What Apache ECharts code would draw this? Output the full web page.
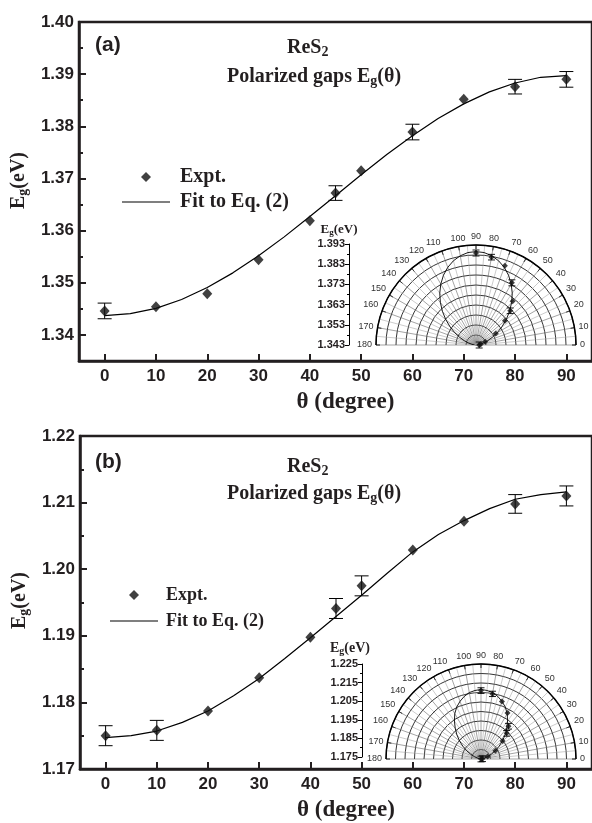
<!DOCTYPE html>
<html>
<head>
<meta charset="utf-8">
<script src="https://cdn.jsdelivr.net/npm/echarts@6/dist/echarts.min.js"></script>
<style>
  html, body { margin: 0; padding: 0; background: #fff; }
  #chart { width: 592px; height: 823px; }
</style>
</head>
<body>
<div id="chart"></div>
<script>
// measured points (theta in degree, Eg in eV)
const thetaExp = [0, 10, 20, 30, 40, 45, 50, 60, 70, 80, 90];
const egExpA = [1.3446, 1.3454, 1.3479, 1.3544, 1.3619, 1.3672, 1.3715, 1.3789, 1.3852, 1.3876, 1.3890];
const errA   = [0.0015, 0, 0, 0, 0, 0.0014, 0, 0.0015, 0, 0.0014, 0.0015];
const egExpB = [1.1750, 1.1758, 1.1787, 1.1837, 1.1898, 1.1941, 1.1975, 1.2029, 1.2072, 1.2098, 1.2110];
const errB   = [0.0015, 0.0015, 0, 0, 0, 0.0015, 0.0015, 0, 0, 0.0014, 0.0015];

// fitted curves
const thetaFit = [0, 5, 10, 15, 20, 25, 30, 35, 40, 45, 50, 55, 60, 65, 70, 75, 80, 85, 90];
const egFitA = [1.3437, 1.3441, 1.3451, 1.3468, 1.3491, 1.3519, 1.3552, 1.3588, 1.3627, 1.3667,
                1.3707, 1.3746, 1.3782, 1.3815, 1.3843, 1.3866, 1.3883, 1.3894, 1.3897];
const egFitB = [1.1747, 1.1750, 1.1757, 1.1770, 1.1787, 1.1810, 1.1836, 1.1866, 1.1897, 1.1929,
                1.1961, 1.1994, 1.2026, 1.2052, 1.2073, 1.2091, 1.2105, 1.2112, 1.2116];

// tick labels
const xTicks = [0, 10, 20, 30, 40, 50, 60, 70, 80, 90];
const yTicksA = [1.34, 1.35, 1.36, 1.37, 1.38, 1.39, 1.40];
const yTicksB = [1.17, 1.18, 1.19, 1.20, 1.21, 1.22];

const SANS = 'Liberation Sans';
const SERIF = 'Liberation Serif';
const INK = '#231f20';

const chart = echarts.init(document.getElementById('chart'), null, { renderer: 'canvas' });

const sub = (size, drop) => ({ fontFamily: SERIF, fontWeight: 'bold', fontSize: size, color: INK, padding: [drop, 0, 0, 0] });
const norm = (size) => ({ fontFamily: SERIF, fontWeight: 'bold', fontSize: size, color: INK });

const expData = (eg, err) => thetaExp.map((t, i) => [t, eg[i], err[i]]);
const fitData = (eg) => thetaFit.map((t, i) => [t, eg[i]]);
// polar: [radius, angle], curve mirrored to 180 deg
const polarExp = (eg, err) => thetaExp.map((t, i) => [eg[i], t, err[i]]);
const polarFit = (eg) => {
  const out = thetaFit.map((t, i) => [eg[i], t]);
  for (let i = thetaFit.length - 2; i >= 0; i--) out.push([eg[i], 180 - thetaFit[i]]);
  return out;
};

const errRender = (params, api) => {
  const e = api.value(2);
  if (!e) return;
  const top = api.coord([api.value(0), api.value(1) + e]);
  const bot = api.coord([api.value(0), api.value(1) - e]);
  const w = 7;
  const st = { stroke: '#000', lineWidth: 1 };
  return { type: 'group', children: [
    { type: 'line', shape: { x1: top[0], y1: top[1], x2: bot[0], y2: bot[1] }, style: st },
    { type: 'line', shape: { x1: top[0] - w, y1: top[1], x2: top[0] + w, y2: top[1] }, style: st },
    { type: 'line', shape: { x1: bot[0] - w, y1: bot[1], x2: bot[0] + w, y2: bot[1] }, style: st }
  ] };
};

const polarErrRender = (params, api) => {
  const e = api.value(2);
  if (!e) return;
  const p = api.coord([api.value(0), api.value(1)]);
  const q = api.coord([api.value(0) + e, api.value(1)]);
  const h = Math.hypot(q[0] - p[0], q[1] - p[1]);
  const w = 3.5;
  const st = { stroke: '#000', lineWidth: 0.9 };
  return { type: 'group', children: [
    { type: 'line', shape: { x1: p[0], y1: p[1] - h, x2: p[0], y2: p[1] + h }, style: st },
    { type: 'line', shape: { x1: p[0] - w, y1: p[1] - h, x2: p[0] + w, y2: p[1] - h }, style: st },
    { type: 'line', shape: { x1: p[0] - w, y1: p[1] + h, x2: p[0] + w, y2: p[1] + h }, style: st }
  ] };
};

const mainX = (gridIndex) => ({
  gridIndex, type: 'value', min: -5, max: 95,
  name: 'θ (degree)', nameLocation: 'middle', nameGap: 30,
  nameTextStyle: { fontFamily: SERIF, fontWeight: 'bold', fontSize: 23, color: INK, padding: [0, 0, 0, 20] },
  axisLine: { onZero: false, lineStyle: { color: INK, width: 2.5 } },
  axisTick: { inside: true, length: 7, lineStyle: { width: 2, color: INK }, customValues: xTicks },
  axisLabel: { customValues: xTicks, margin: 7, fontFamily: SANS, fontWeight: 'bold', fontSize: 17, color: INK },
  splitLine: { show: false }
});

const mainY = (gridIndex, min, max, ticks, padBottom) => ({
  gridIndex, type: 'value', min, max, position: 'left',
  name: '{e|E}{s|g}{e|(eV)}', nameLocation: 'middle', nameGap: 48,
  nameTextStyle: { padding: [0, 0, 0, padBottom], rich: { e: norm(20), s: sub(14, 9) } },
  axisLine: { onZero: false, lineStyle: { color: INK, width: 2.5 } },
  axisTick: { inside: true, length: 7, lineStyle: { width: 2, color: INK }, customValues: ticks },
  axisLabel: { customValues: ticks, margin: 5, formatter: v => v.toFixed(2),
               fontFamily: SANS, fontWeight: 'bold', fontSize: 17, color: INK },
  splitLine: { show: false }
});

const minorY = (gridIndex, min, max) => ({
  gridIndex, type: 'value', min, max, interval: 0.005, position: 'left',
  axisLine: { show: false, onZero: false },
  axisTick: { inside: true, length: 4, lineStyle: { width: 2, color: INK } },
  axisLabel: { show: false },
  splitLine: { show: false }
});

const insetY = (gridIndex, min, max) => ({
  gridIndex, type: 'value', min, max, interval: 0.01, position: 'left',
  axisLine: { onZero: false, lineStyle: { color: '#000', width: 1 } },
  axisTick: { length: 4, lineStyle: { color: '#000', width: 1 } },
  minorTick: { show: true, splitNumber: 2, length: 2, lineStyle: { color: '#000' } },
  axisLabel: { margin: 4, formatter: v => v.toFixed(3), fontFamily: SANS, fontWeight: 'bold', fontSize: 11, color: INK },
  splitLine: { show: false }
});

const angleAxis = (polarIndex) => ({
  polarIndex, type: 'value', min: 0, max: 180, interval: 10,
  startAngle: 0, endAngle: 180, clockwise: false,
  axisLine: { lineStyle: { color: '#000', width: 1.5 } },
  axisTick: { inside: true, length: 4, lineStyle: { color: '#000' } },
  axisLabel: { margin: 4, fontFamily: SANS, fontSize: 9, color: '#333' },
  splitLine: { show: true, lineStyle: { color: '#666', width: 0.6 } },
  minorTick: { show: false, splitNumber: 2 },
  minorSplitLine: { show: true, lineStyle: { color: '#999', width: 0.5 } }
});

const radiusAxis = (polarIndex, min, max) => ({
  polarIndex, type: 'value', min, max, interval: 0.005,
  axisLine: { show: false }, axisTick: { show: false }, axisLabel: { show: false },
  splitLine: { show: true, lineStyle: { color: '#000', width: 0.8 } }
});

const legend = (left, top, size, pad, gap) => ({
  data: [
    { name: 'Expt.', icon: 'path://M0,-1L1,0L0,1L-1,0Z', itemStyle: { color: '#111' } },
    { name: 'Fit to Eq. (2)', icon: 'path://M0,0L48,0L48,1.2L0,1.2Z', itemStyle: { color: '#000' } }
  ],
  orient: 'vertical', left, top,
  itemWidth: 48, itemHeight: 10, itemGap: gap, selectedMode: false,
  textStyle: { fontFamily: SERIF, fontWeight: 'bold', fontSize: size, color: INK, padding: [0, 0, 0, pad] }
});

const label = (x, y, text, rich, align) => ({
  type: 'text', x, y,
  style: { text, rich, align: align || 'left', verticalAlign: 'middle', fill: INK }
});

const option = {
  animation: false,
  backgroundColor: '#fff',
  grid: [
    { left: 79, top: 22, width: 516, height: 339, show: true, borderColor: INK, borderWidth: 2.5 },
    { left: 80, top: 436, width: 515, height: 337, show: true, borderColor: INK, borderWidth: 2.5 },
    { left: 349, top: 244, width: 1, height: 101 },
    { left: 362, top: 664, width: 1, height: 93 }
  ],
  xAxis: [
    mainX(0), mainX(1),
    { gridIndex: 2, show: false, min: 0, max: 1 },
    { gridIndex: 3, show: false, min: 0, max: 1 }
  ],
  yAxis: [
    mainY(0, 1.335, 1.40, yTicksA, 22),
    mainY(1, 1.17, 1.22, yTicksB, 4),
    minorY(0, 1.335, 1.40),
    minorY(1, 1.17, 1.22),
    insetY(2, 1.343, 1.393),
    insetY(3, 1.175, 1.225)
  ],
  polar: [
    { center: [476, 345], radius: 100 },
    { center: [481, 759], radius: 95 }
  ],
  angleAxis: [angleAxis(0), angleAxis(1)],
  radiusAxis: [radiusAxis(0, 1.343, 1.393), radiusAxis(1, 1.175, 1.225)],
  legend: [legend(117, 162, 20, 5, 5), legend(105, 581, 18, 3, 8)],
  graphic: [
    label(95, 45, '{t|(a)}', { t: { fontFamily: SANS, fontWeight: 'bold', fontSize: 21, color: INK } }),
    label(287, 48, '{t|ReS}{s|2}', { t: norm(20), s: sub(14, 8) }),
    label(227, 77, '{t|Polarized gaps E}{s|g}{t|(θ)}', { t: norm(20), s: sub(14, 9) }),
    label(95, 462, '{t|(b)}', { t: { fontFamily: SANS, fontWeight: 'bold', fontSize: 21, color: INK } }),
    label(287, 467, '{t|ReS}{s|2}', { t: norm(20), s: sub(14, 8) }),
    label(227, 494, '{t|Polarized gaps E}{s|g}{t|(θ)}', { t: norm(20), s: sub(14, 9) }),
    label(339, 230, '{t|E}{s|g}{t|(eV)}', { t: norm(13), s: sub(9, 6) }, 'center'),
    label(350, 648, '{t|E}{s|g}{t|(eV)}', { t: norm(14), s: sub(10, 6) }, 'center')
  ],
  series: [
    { name: 'Expt.', type: 'scatter', xAxisIndex: 0, yAxisIndex: 0, data: expData(egExpA, errA),
      symbol: 'diamond', symbolSize: [10, 11], itemStyle: { color: '#111' }, z: 4 },
    { name: 'Fit to Eq. (2)', type: 'line', xAxisIndex: 0, yAxisIndex: 0, data: fitData(egFitA),
      symbol: 'none', itemStyle: { color: '#000' }, lineStyle: { color: '#000', width: 1.2 }, z: 3 },
    { name: 'errA', type: 'custom', xAxisIndex: 0, yAxisIndex: 0, data: expData(egExpA, errA),
      encode: { x: 0, y: 1 }, renderItem: errRender, z: 3 },
    { name: 'Expt.', type: 'scatter', xAxisIndex: 1, yAxisIndex: 1, data: expData(egExpB, errB),
      symbol: 'diamond', symbolSize: [10, 11], itemStyle: { color: '#111' }, z: 4 },
    { name: 'Fit to Eq. (2)', type: 'line', xAxisIndex: 1, yAxisIndex: 1, data: fitData(egFitB),
      symbol: 'none', itemStyle: { color: '#000' }, lineStyle: { color: '#000', width: 1.2 }, z: 3 },
    { name: 'errB', type: 'custom', xAxisIndex: 1, yAxisIndex: 1, data: expData(egExpB, errB),
      encode: { x: 0, y: 1 }, renderItem: errRender, z: 3 },

    // insets
    { name: 'Fit to Eq. (2)', type: 'line', coordinateSystem: 'polar', polarIndex: 0, data: polarFit(egFitA),
      symbol: 'none', itemStyle: { color: '#000' }, lineStyle: { color: '#000', width: 0.9 }, z: 5 },
    { name: 'Expt.', type: 'scatter', coordinateSystem: 'polar', polarIndex: 0, data: polarExp(egExpA, errA),
      symbol: 'diamond', symbolSize: 6, itemStyle: { color: '#111' }, z: 6 },
    { name: 'perrA', type: 'custom', coordinateSystem: 'polar', polarIndex: 0, data: polarExp(egExpA, errA),
      encode: { radius: 0, angle: 1 }, renderItem: polarErrRender, z: 6 },
    { name: 'Fit to Eq. (2)', type: 'line', coordinateSystem: 'polar', polarIndex: 1, data: polarFit(egFitB),
      symbol: 'none', itemStyle: { color: '#000' }, lineStyle: { color: '#000', width: 0.9 }, z: 5 },
    { name: 'Expt.', type: 'scatter', coordinateSystem: 'polar', polarIndex: 1, data: polarExp(egExpB, errB),
      symbol: 'diamond', symbolSize: 6, itemStyle: { color: '#111' }, z: 6 },
    { name: 'perrB', type: 'custom', coordinateSystem: 'polar', polarIndex: 1, data: polarExp(egExpB, errB),
      encode: { radius: 0, angle: 1 }, renderItem: polarErrRender, z: 6 }
  ]
};

chart.setOption(option);
</script>
</body>
</html>
